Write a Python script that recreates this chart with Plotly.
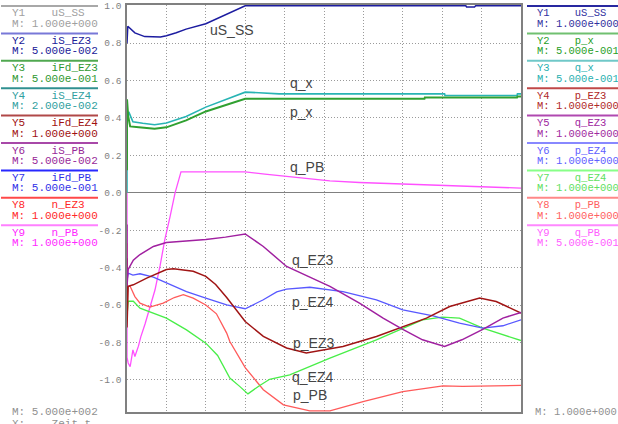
import plotly.graph_objects as go

# ---------------- data (time in grid divisions, values in displayed units) -------------
t_uS_SS = [0, 0.02, 0.2, 0.45, 0.85, 1.0, 1.25, 1.5, 2.0, 2.5, 3.0, 8.6, 8.62, 8.82, 8.85, 10]
v_uS_SS = [0.80, 0.89, 0.855, 0.835, 0.833, 0.84, 0.856, 0.875, 0.904, 0.952, 1.0, 1.0, 0.993, 0.993, 1.0, 1.0]

t_p_x = [0, 0, 0.03, 0.08, 0.3, 0.7, 1.0, 1.5, 2.0, 2.5, 3.0, 7.55, 7.56, 9.9, 9.91, 10]
v_p_x = [0.12, 0.50, 0.41, 0.355, 0.35, 0.342, 0.35, 0.387, 0.435, 0.47, 0.503, 0.503, 0.51, 0.51, 0.515, 0.515]

t_q_x = [0, 0, 0.05, 0.15, 0.4, 0.7, 1.0, 1.5, 2.0, 2.5, 3.0, 3.35, 3.86, 8.06, 8.07, 9.9, 9.91, 10]
v_q_x = [0.0, 0.43, 0.43, 0.38, 0.372, 0.364, 0.373, 0.408, 0.458, 0.497, 0.538, 0.535, 0.529, 0.529, 0.52, 0.52, 0.529, 0.529]

t_q_PB = [0, 0, 0.03, 0.08, 0.15, 0.2, 0.29, 0.35, 0.46, 0.58, 0.71, 0.84, 0.96, 1.09, 1.22, 1.37,
          3.0, 3.5, 4.0, 4.6, 5.15, 5.9, 6.9, 8.0, 9.0, 10]
v_q_PB = [0.0, -0.88, -0.91, -0.93, -0.84, -0.875, -0.82, -0.77, -0.70, -0.61, -0.52, -0.39, -0.25, -0.13, 0.0, 0.112,
          0.112, 0.10, 0.088, 0.075, 0.064, 0.055, 0.048, 0.039, 0.03, 0.025]

t_q_EZ3 = [0, 0, 0.03, 0.16, 0.33, 0.67, 1.0, 1.5, 2.0, 2.5, 3.0, 3.46, 4.05, 4.64, 5.15, 5.9, 6.5, 7.0, 7.5,
           8.06, 8.5, 9.03, 9.54, 10]
v_q_EZ3 = [-0.17, -0.5, -0.41, -0.36, -0.33, -0.287, -0.266, -0.258, -0.25, -0.237, -0.22, -0.287, -0.394, -0.451,
           -0.50, -0.59, -0.67, -0.73, -0.786, -0.822, -0.786, -0.73, -0.67, -0.64]

t_p_EZ4 = [0, 0.03, 0.15, 0.33, 0.67, 1.0, 1.51, 2.0, 2.53, 3.0, 3.46, 3.8, 4.05, 4.64, 5.48, 6.33, 7.0, 7.77,
           8.44, 9.03, 9.54, 10]
v_p_EZ4 = [-0.47, -0.43, -0.44, -0.433, -0.451, -0.48, -0.528, -0.563, -0.599, -0.62, -0.572, -0.53, -0.515, -0.505,
           -0.528, -0.572, -0.626, -0.658, -0.697, -0.724, -0.711, -0.679]

t_p_EZ3 = [0, 0, 0.03, 0.16, 0.5, 1.0, 1.18, 1.68, 2.0, 2.25, 2.53, 2.8, 3.0, 3.46, 4.05, 4.55, 5.48, 6.33, 7.0,
           7.6, 8.19, 8.95, 9.37, 10]
v_p_EZ3 = [-0.35, -0.72, -0.50, -0.492, -0.456, -0.41, -0.406, -0.42, -0.447, -0.49, -0.56, -0.63, -0.688, -0.768,
           -0.83, -0.857, -0.822, -0.768, -0.715, -0.67, -0.608, -0.563, -0.581, -0.643]

t_q_EZ4 = [0, 0, 0.03, 0.16, 0.33, 0.67, 1.0, 1.51, 2.0, 2.3, 2.61, 2.86, 3.07, 3.37, 3.62, 4.13, 5.15, 6.33, 7.0,
           7.5, 8.0, 8.44, 9.03, 10]
v_q_EZ4 = [-0.47, -0.66, -0.58, -0.58, -0.617, -0.644, -0.67, -0.733, -0.804, -0.87, -0.99, -1.035, -1.075, -1.03,
           -0.997, -0.973, -0.884, -0.786, -0.724, -0.68, -0.665, -0.67, -0.724, -0.79]

t_p_PB = [0, 0, 0.08, 0.2, 0.33, 0.58, 0.92, 1.2, 1.43, 1.68, 2.0, 2.27, 2.53, 2.61, 3.0, 3.46, 3.97, 4.64, 5.15,
          5.99, 7.0, 8.02, 8.52, 9.37, 10]
v_p_PB = [-0.27, -0.50, -0.50, -0.555, -0.59, -0.611, -0.59, -0.56, -0.545, -0.563, -0.60, -0.647, -0.75, -0.795,
          -0.935, -1.053, -1.134, -1.166, -1.166, -1.116, -1.063, -1.032, -1.035, -1.03, -1.03]

Y_TICKS = [1.0, 0.8, 0.6, 0.4, 0.2, 0.0, -0.2, -0.4, -0.6, -0.8, -1.0]
Y_TICK_LABELS = ["1.0", "0.8", "0.6", "0.4", "0.2", "0.0", "-0.2", "-0.4", "-0.6", "-0.8", "-1.0"]

LEFT_NAMES = ["uS_SS", "iS_EZ3", "iFd_EZ3", "iS_EZ4", "iFd_EZ4", "iS_PB", "iFd_PB", "n_EZ3", "n_PB"]
LEFT_SCALES = ["1.000e+000", "5.000e-002", "5.000e-001", "2.000e-002", "1.000e+000",
               "5.000e-002", "5.000e-001", "1.000e+000", "1.000e+000"]
RIGHT_NAMES = ["uS_SS", "p_x", "q_x", "p_EZ3", "q_EZ3", "p_EZ4", "q_EZ4", "p_PB", "q_PB"]
RIGHT_SCALES = ["1.000e+000", "5.000e-001", "5.000e-001", "1.000e+000", "1.000e+000",
                "1.000e+000", "1.000e+000", "1.000e+000", "5.000e-001"]
X_SCALE = "5.000e+002"
X_NAME = "Zeit t"
Y_SCALE = "1.000e+000"

# ---------------- styles ----------------
LEFT_LINE_COLORS = ["#a8a8a8", "#7878d8", "#50a850", "#309090", "#b04848", "#a848a8", "#2828ff", "#ff4848", "#ff80ff"]
LEFT_TEXT_COLORS = ["#a0a0a0", "#202098", "#309830", "#30a0a0", "#a01010", "#982898", "#3030e8", "#ff2828", "#ff28ff"]
RIGHT_LINE_COLORS = ["#2828a0", "#70c070", "#70c8c8", "#c04848", "#b048b0", "#8888ff", "#88ff88", "#ff8888", "#ff88ff"]
RIGHT_TEXT_COLORS = ["#3030a0", "#28a028", "#28b0b0", "#b02828", "#a028a0", "#6060ff", "#60e060", "#ff6060", "#ff60ff"]

W, H = 618, 424
L, R, T, B = 127, 521, 5, 412


def pxx(p):
    return (p - L) / (R - L)


def pxy(p):
    return (B - p) / (B - T)


fig = go.Figure()
series = [
    (t_q_PB, v_q_PB, "#ff50ff", 1.3),
    (t_p_PB, v_p_PB, "#ff5a5a", 1.3),
    (t_q_EZ4, v_q_EZ4, "#48ee48", 1.3),
    (t_p_EZ4, v_p_EZ4, "#5858ff", 1.3),
    (t_p_EZ3, v_p_EZ3, "#a01414", 1.5),
    (t_q_EZ3, v_q_EZ3, "#a020a0", 1.5),
    (t_q_x, v_q_x, "#28b4b4", 1.6),
    (t_p_x, v_p_x, "#30a030", 2.0),
    (t_uS_SS, v_uS_SS, "#1c1ca0", 1.5),
]
for tx, vy, col, w in series:
    fig.add_trace(go.Scatter(x=tx, y=vy, mode="lines", line=dict(color=col, width=w),
                             showlegend=False, hoverinfo="skip"))

# curve labels
labels = [("uS_SS", 2.06, 0.872), ("q_x", 4.09, 0.588), ("p_x", 4.09, 0.433), ("q_PB", 4.09, 0.139),
          ("q_EZ3", 4.14, -0.358), ("p_EZ4", 4.14, -0.583), ("p_EZ3", 4.16, -0.802),
          ("q_EZ4", 4.14, -0.984), ("p_PB", 4.16, -1.08)]
for txt, lx, ly in labels:
    fig.add_annotation(x=lx, y=ly, xref="x", yref="y", text=txt, showarrow=False, xanchor="left",
                       yanchor="middle", font=dict(family="Liberation Sans, Arial", size=14, color="#454545"))

NB = "\u00a0"
shapes = []
for side in ("left", "right"):
    names = LEFT_NAMES if side == "left" else RIGHT_NAMES
    scales = LEFT_SCALES if side == "left" else RIGHT_SCALES
    lcols = LEFT_LINE_COLORS if side == "left" else RIGHT_LINE_COLORS
    tcols = LEFT_TEXT_COLORS if side == "left" else RIGHT_TEXT_COLORS
    x0, x1, xt = (1, 98, 10) if side == "left" else (527, 618, 535)
    fs = 11 if side == "left" else 10.5
    for i, (nm, sc) in enumerate(zip(names, scales)):
        yl = 6 + 27.4 * i
        shapes.append(dict(type="line", xref="paper", yref="paper", x0=pxx(x0), x1=pxx(x1),
                           y0=pxy(yl), y1=pxy(yl), line=dict(color=lcols[i], width=2)))
        fig.add_annotation(x=pxx(xt), y=pxy(yl + 7.5), xref="paper", yref="paper",
                           text=f"Y{i+1}" + NB * 4 + nm, showarrow=False, xanchor="left", yanchor="middle",
                           font=dict(family="Liberation Mono", size=fs, color=tcols[i]))
        fig.add_annotation(x=pxx(xt), y=pxy(yl + 18), xref="paper", yref="paper",
                           text="M:" + NB + sc, showarrow=False, xanchor="left", yanchor="middle",
                           font=dict(family="Liberation Mono", size=fs, color=tcols[i]))

fig.add_annotation(x=pxx(10), y=pxy(412), xref="paper", yref="paper", text="M:" + NB + X_SCALE,
                   showarrow=False, xanchor="left", yanchor="middle",
                   font=dict(family="Liberation Mono", size=11, color="#909090"))
fig.add_annotation(x=pxx(10), y=pxy(424), xref="paper", yref="paper", text="X:" + NB * 4 + X_NAME,
                   showarrow=False, xanchor="left", yanchor="middle",
                   font=dict(family="Liberation Mono", size=11, color="#909090"))
fig.add_annotation(x=pxx(533), y=pxy(412), xref="paper", yref="paper", text="M:" + NB + Y_SCALE,
                   showarrow=False, xanchor="left", yanchor="middle",
                   font=dict(family="Liberation Mono", size=10.5, color="#909090"))

fig.update_layout(
    width=W, height=H, margin=dict(l=L, r=W - R, t=T, b=H - B, pad=0, autoexpand=False),
    paper_bgcolor="white", plot_bgcolor="white", shapes=shapes,
    xaxis=dict(range=[0, 10], dtick=1, showticklabels=False, showgrid=True, gridcolor="#9a9a9a",
               griddash="1px,2px", gridwidth=1, zeroline=False, showline=True, linecolor="#808080",
               linewidth=1.5, mirror=True, ticks="", layer="below traces"),
    yaxis=dict(range=[-1.172, 1.004], tickvals=Y_TICKS, ticktext=Y_TICK_LABELS, showgrid=True,
               gridcolor="#9a9a9a", griddash="1px,2px", gridwidth=1, zeroline=True, zerolinecolor="#808080",
               zerolinewidth=1, showline=True, linecolor="#808080", linewidth=1.5, mirror=True, ticks="",
               ticklabelstandoff=2,
               tickfont=dict(family="Liberation Mono", size=9.5, color="#808080"), layer="below traces"),
)

fig.write_html("out.html", config={"displayModeBar": False},
               post_script="document.body.style.margin='0px';document.body.style.overflow='hidden';")
